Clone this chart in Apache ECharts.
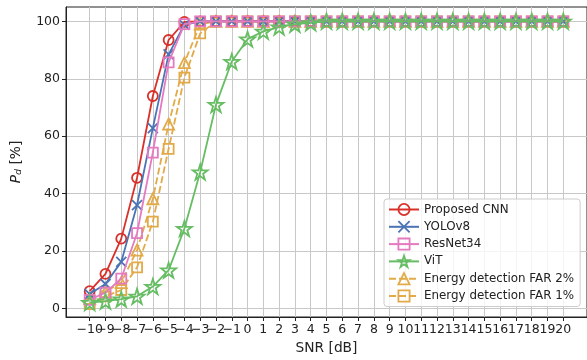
<!DOCTYPE html>
<html><head><meta charset="utf-8">
<script src="https://cdn.jsdelivr.net/npm/echarts@6/dist/echarts.min.js"></script>
<style>html,body{margin:0;padding:0;background:#fff}#c{width:587px;height:360px}</style>
</head><body><div id="c"></div>
<script>
const snr = [-10,-9,-8,-7,-6,-5,-4,-3,-2,-1,0,1,2,3,4,5,6,7,8,9,10,11,12,13,14,15,16,17,18,19,20];
const yTicks = [0,20,40,60,80,100];
const cnn    = [6,12,24.3,45.5,74,93.5,99.8,100,100,100,100,100,100,100,100,100,100,100,100,100,100,100,100,100,100,100,100,100,100,100,100];
const yolo   = [5,8.5,16.2,36,62.8,88.5,98.8,100,100,100,100,100,100,100,100,100,100,100,100,100,100,100,100,100,100,100,100,100,100,100,100];
const resnet = [3,5.5,10.4,26.2,54.3,85.7,99,100,100,100,100,100,100,100,100,100,100,100,100,100,100,100,100,100,100,100,100,100,100,100,100];
const vit    = [2,2.5,3.2,4.2,7.6,13.3,27.8,47.5,71,86,93.8,96.5,98,99,99.5,100,100,100,100,100,100,100,100,100,100,100,100,100,100,100,100];
const far2   = [3.5,5.8,9,20.3,38.2,64.2,85.6,99,100,100,100,100,100,100,100,100,100,100,100,100,100,100,100,100,100,100,100,100,100,100,100];
const far1   = [1.5,4.2,6.4,14.3,30.2,55.6,80.4,95.8,100,100,100,100,100,100,100,100,100,100,100,100,100,100,100,100,100,100,100,100,100,100,100];
const names = ['Proposed CNN','YOLOv8','ResNet34','ViT','Energy detection FAR 2%','Energy detection FAR 1%'];
const colors = ['#d9302a','#4a74b4','#e57ac0','#66bd63','#e2aa48','#e2aa48'];

const STAR = 'path://M50,2L61.8,37.6L99,37.6L68.8,59.6L80.4,95L50,73.2L19.6,95L31.2,59.6L1,37.6L38.2,37.6Z';
const XMARK = 'path://M0,0L10,10M10,0L0,10';
const pair = a => snr.map((x,i)=>[x,a[i]]);
const evenTicks = snr.filter(v => v % 2 === 0);
const oddTicks = snr.filter(v => v % 2 !== 0);
function mk(idx, data, symbol, size, dashed, z){
  const color = colors[idx];
  return {
    name: names[idx], type:'line', data: pair(data), symbol, symbolSize: size, z,
    xAxisIndex:0, showSymbol: true, animation:false,
    lineStyle:{color, width:1.8, type: dashed ? [7,3] : 'solid'},
    itemStyle:{color:'rgba(255,255,255,0)', borderColor:color, borderWidth:1.8},
    emphasis:{disabled:true}
  };
}
const chart = echarts.init(document.getElementById('c'), null, {renderer:'canvas'});
const fmt = v => String(v).replace('-', '\u2212');
function xAx(ticks, main){
  return {
    type:'value', min:-11.5, max:21.5, position:'bottom', gridIndex:0,
    name: main ? 'SNR [dB]' : '', nameLocation:'middle', nameGap:24,
    nameTextStyle:{fontFamily:'DejaVu Sans', fontSize:13.75, color:'#222'},
    axisLine:{show:main, onZero:false, lineStyle:{color:'#222', width:1}},
    axisTick:{show:true, length:4, customValues:ticks, lineStyle:{color:'#222'}},
    axisLabel:{customValues:ticks, formatter:fmt, fontFamily:'DejaVu Sans', fontSize:12.5, color:'#222', margin:6,
      showMinLabel:true, showMaxLabel:true, hideOverlap:false},
    splitLine:{show:true, lineStyle:{color:'#c8c8c8', width:1}}
  };
}
chart.setOption({
  animation:false,
  grid:{left:66, top:7, right:-3, bottom:41, show:true, borderColor:'#222', borderWidth:1, backgroundColor:'transparent'},
  xAxis:[xAx(evenTicks, true), xAx(oddTicks, false)],
  yAxis:{
    type:'value', min:-3, max:105,
    name:'{i|P}{s|d} [%]', nameLocation:'middle', nameGap:42,
    nameTextStyle:{fontFamily:'DejaVu Sans', fontSize:13.75, color:'#222',
      rich:{i:{fontStyle:'italic', fontFamily:'DejaVu Sans', fontSize:13.75, color:'#222'},
            s:{fontStyle:'italic', fontFamily:'DejaVu Sans', fontSize:9.5, color:'#222', verticalAlign:'bottom', padding:[6,0,0,0]}}},
    axisLine:{show:true, onZero:false, lineStyle:{color:'#222', width:1}},
    axisTick:{show:true, length:4, customValues:yTicks, lineStyle:{color:'#222'}},
    axisLabel:{customValues:yTicks, fontFamily:'DejaVu Sans', fontSize:12.5, color:'#222', margin:6},
    splitLine:{show:true, lineStyle:{color:'#c8c8c8', width:1}}
  },
  legend:{
    data:names.map((n,i)=>({name:n, itemStyle:{color:'rgba(255,255,255,0)', borderColor:colors[i], borderWidth:1.8}})),
    orient:'vertical', left:384, top:199,
    itemWidth:30, itemHeight:14, itemGap:4.3,
    padding:[4,6,4,4],
    backgroundColor:'rgba(255,255,255,0.8)', borderColor:'#cccccc', borderWidth:1, borderRadius:3,
    textStyle:{fontFamily:'DejaVu Sans', fontSize:11.9, color:'#222'},
    selectedMode:false
  },
  series:[
    mk(4, far2, 'triangle', 11, true, 2),
    mk(5, far1, 'rect', 10, true, 3),
    mk(0, cnn, 'circle', 10, false, 4),
    mk(1, yolo, XMARK, 10, false, 5),
    mk(2, resnet, 'rect', 10, false, 6),
    mk(3, vit, STAR, 15, false, 7)
  ]
});
</script></body></html>
